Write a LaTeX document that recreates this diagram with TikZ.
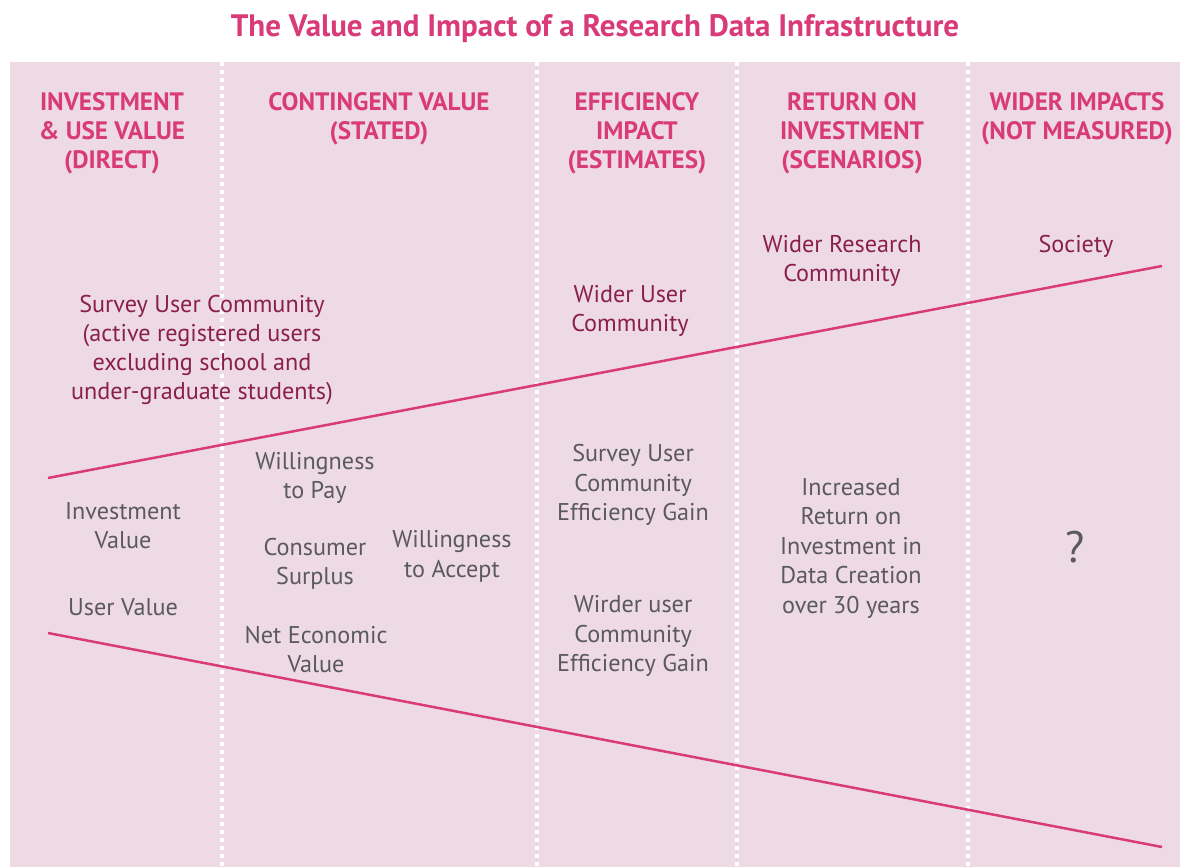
\documentclass[tikz,border=0pt]{standalone}
\usepackage{fontspec}
\setmainfont{PT Sans}
\definecolor{panel}{HTML}{EDDAE5}
\definecolor{hot}{HTML}{D93A78}
\definecolor{maroon}{HTML}{8A1F4F}
\definecolor{greytext}{HTML}{5A5A5A}
\tikzset{
  hdr/.style={text=hot, font=\fontsize{25.2}{29}\selectfont\bfseries, align=center, inner sep=0pt, yshift=-3.5pt},
  uptext/.style={text=maroon, font=\fontsize{24.2}{29}\selectfont, align=center, inner sep=0pt, yshift=-3pt},
  lowtext/.style={text=greytext, font=\fontsize{24.2}{29.5}\selectfont, align=center, inner sep=0pt, yshift=-3pt},
  divider/.style={white, line width=4pt, dash pattern=on 4pt off 4pt},
  band/.style={hot, line width=2.5pt},
}
\begin{document}
\begin{tikzpicture}[x=1pt,y=-1pt]
\useasboundingbox (0,0) rectangle (1180,867);
\fill[white] (0,0) rectangle (1180,867);
\fill[panel] (10,62) rectangle (1180,867);
% dividers
\foreach \xx/\nm in {222/a,537/b,737/c,968/d}{
  \coordinate (top\nm) at (\xx,62);
  \coordinate (bot\nm) at (\xx,867);
  \draw[divider] (top\nm) -- (bot\nm);
}
% title
\node[text=hot, font=\fontsize{31}{36}\selectfont\bfseries, inner sep=0pt] (title) at (595,29) {The Value and Impact of a Research Data Infrastructure};
% headers
\node[hdr] (h1) at (112,130) {INVESTMENT\\\& USE VALUE\\(DIRECT)};
\node[hdr] (h2) at (379,115.5) {CONTINGENT VALUE\\(STATED)};
\node[hdr] (h3) at (637,130) {EFFICIENCY\\IMPACT\\(ESTIMATES)};
\node[hdr] (h4) at (852,130) {RETURN ON\\INVESTMENT\\(SCENARIOS)};
\node[hdr] (h5) at (1077,115.5) {WIDER IMPACTS\\(NOT MEASURED)};
% band lines
\coordinate (ua) at (48,478);
\coordinate (ub) at (1162,266);
\coordinate (la) at (48,633);
\coordinate (lb) at (1162,847);
\draw[band] (ua) -- (ub);
\draw[band] (la) -- (lb);
% upper texts
\node[uptext] (suc) at (202,347.5) {Survey User Community\\(active registered users\\excluding school and\\under-graduate students)};
\node[uptext] (wuc) at (630,307.5) {Wider User\\Community};
\node[uptext] (wrc) at (842,257.5) {Wider Research\\Community};
\node[uptext] (soc) at (1076,243) {Society};
% lower texts
\node[lowtext] (iv) at (123,522.5) {Investment\\Value};
\node[lowtext] (uv) at (123,604) {User Value};
\node[lowtext] (wtp) at (315,475) {Willingness\\to Pay};
\node[lowtext] (cs) at (315,561) {Consumer\\Surplus};
\node[lowtext] (nev) at (316,646.5) {Net Economic\\Value};
\node[lowtext] (wta) at (452,553.5) {Willingness\\to Accept};
\node[lowtext] (suceg) at (633,482) {Survey User\\Community\\Efficiency Gain};
\node[lowtext] (wuceg) at (633,633) {Wirder user\\Community\\Efficiency Gain};
\node[lowtext] (roi) at (851,545.5) {Increased\\Return on\\Investment in\\Data Creation\\over 30 years};
\node[text=greytext, font=\fontsize{44}{48}\selectfont, inner sep=0pt] (q) at (1075,547) {?};
\end{tikzpicture}
\end{document}
